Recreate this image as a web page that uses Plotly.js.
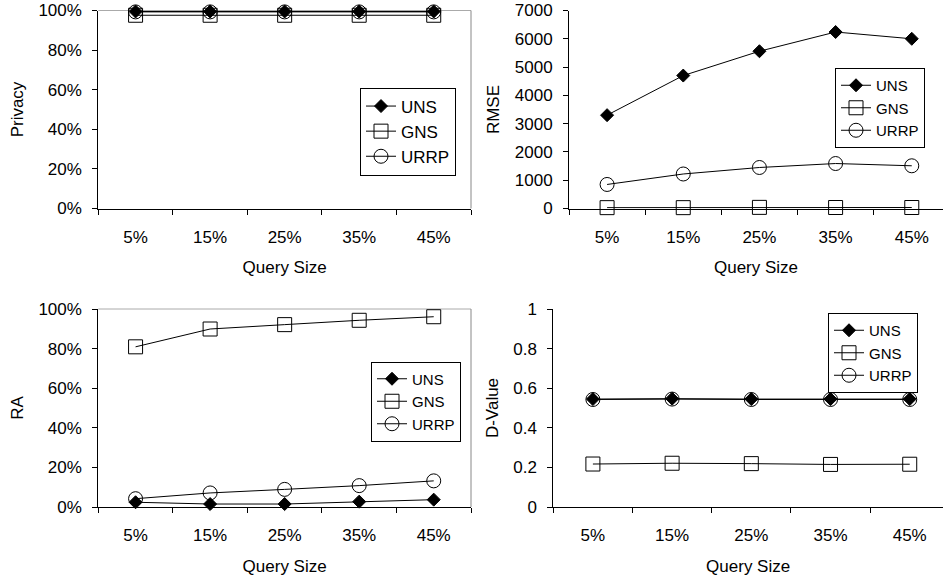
<!DOCTYPE html>
<html>
<head>
<meta charset="utf-8">
<script src="https://cdn.plot.ly/plotly-3.0.1.min.js"></script>
<style>html,body{margin:0;padding:0;background:#fff;}#chart{width:943px;height:579px;}</style>
</head>
<body>
<div id="chart"></div>
<script>
// ---- data ----
const querySizes = ["5%", "15%", "25%", "35%", "45%"];
const seriesNames = ["UNS", "GNS", "URRP"];

const privacyUNS  = [0.995, 0.995, 0.995, 0.995, 0.995];
const privacyGNS  = [0.976, 0.976, 0.976, 0.976, 0.976];
const privacyURRP = [0.993, 0.993, 0.993, 0.993, 0.993];

const rmseUNS  = [3300, 4700, 5560, 6240, 6000];
const rmseGNS  = [30, 30, 40, 35, 35];
const rmseURRP = [850, 1220, 1450, 1590, 1510];

const raUNS  = [0.024, 0.015, 0.015, 0.027, 0.037];
const raGNS  = [0.809, 0.899, 0.921, 0.943, 0.961];
const raURRP = [0.042, 0.071, 0.089, 0.108, 0.132];

const dUNS  = [0.545, 0.547, 0.545, 0.545, 0.545];
const dGNS  = [0.217, 0.221, 0.219, 0.215, 0.216];
const dURRP = [0.543, 0.545, 0.543, 0.543, 0.543];

// ---- styling ----
const FONT = "Arial, 'Liberation Sans', sans-serif";
const FS = 17;
const markerStyles = {
  UNS:  {symbol: "diamond", size: 10, color: "#000", line: {color: "#000", width: 1}},
  GNS:  {symbol: "square-open", size: 14, color: "#000", line: {color: "#000", width: 1}},
  URRP: {symbol: "circle-open", size: 14, color: "#000", line: {color: "#000", width: 1}}
};

function makeTraces(vals, xa, ya, legendName) {
  const map = {UNS: vals[0], GNS: vals[1], URRP: vals[2]};
  return seriesNames.map((name) => ({
    type: "scatter", mode: "lines+markers",
    x: querySizes, y: map[name], name: name,
    xaxis: xa, yaxis: ya, legend: legendName,
    line: {color: "#000", width: 1},
    marker: Object.assign({}, markerStyles[name]),
    cliponaxis: false,
    hoverinfo: "skip"
  }));
}

const traces = [].concat(
  makeTraces([privacyUNS, privacyGNS, privacyURRP], "x", "y", "legend"),
  makeTraces([rmseUNS, rmseGNS, rmseURRP], "x2", "y2", "legend2"),
  makeTraces([raUNS, raGNS, raURRP], "x3", "y3", "legend3"),
  makeTraces([dUNS, dGNS, dURRP], "x4", "y4", "legend4")
);

const W = 943, H = 579;
const px = (v) => v / W;
const py = (v) => (H - v) / H;

function xAxis(domain, rangeEnd, anchor) {
  return {
    domain: domain, anchor: anchor, type: "category",
    categoryorder: "array", categoryarray: querySizes,
    range: [-0.5, rangeEnd],
    tickson: "boundaries", ticks: "outside", ticklen: 5, tickcolor: "#000", tickwidth: 1,
    showline: true, linecolor: "#000", linewidth: 1, showgrid: false, zeroline: false,
    tickfont: {family: FONT, size: FS, color: "#000"},
    ticklabelstandoff: 13,
    title: {text: "Query Size", font: {family: FONT, size: FS, color: "#000"}, standoff: 15},
    automargin: false, fixedrange: true
  };
}
function yAxis(domain, range, dtick, fmt, title, anchor) {
  return {
    domain: domain, anchor: anchor, range: range, dtick: dtick, tickformat: fmt,
    ticks: "outside", ticklen: 5, tickcolor: "#000", tickwidth: 1,
    showline: true, linecolor: "#000", linewidth: 1, showgrid: false, zeroline: false,
    tickfont: {family: FONT, size: FS, color: "#000"},
    ticklabelstandoff: 7,
    title: {text: title, font: {family: FONT, size: FS, color: "#000"}, standoff: 10},
    automargin: false, fixedrange: true
  };
}
function legendAt(x, y, fs) {
  return {
    x: x, y: y, xanchor: "left", yanchor: "middle", xref: "paper", yref: "paper",
    bgcolor: "#fff", bordercolor: "#000", borderwidth: 1,
    font: {family: FONT, size: fs, color: "#000"},
    itemwidth: 30, tracegroupgap: 0, traceorder: "normal"
  };
}

const topDom = [py(208.5), py(10.5)];
const botDom = [py(507), py(309)];
const leftX = [px(98.3), px(471)];

const layout = {
  width: W, height: H,
  margin: {l: 0, r: 0, t: 0, b: 0},
  paper_bgcolor: "#fff", plot_bgcolor: "rgba(0,0,0,0)",
  font: {family: FONT, size: FS, color: "#000"},
  showlegend: true,
  xaxis: xAxis(leftX, 4.5, "y"),
  yaxis: yAxis(topDom, [0, 1], 0.2, ".0%", "Privacy", "x"),
  xaxis2: xAxis([px(569), 1], 4.41, "y2"),
  yaxis2: yAxis(topDom, [0, 7000], 1000, "d", "RMSE", "x2"),
  xaxis3: xAxis(leftX, 4.5, "y3"),
  yaxis3: yAxis(botDom, [0, 1], 0.2, ".0%", "RA", "x3"),
  xaxis4: xAxis([px(553.3), 1], 4.42, "y4"),
  yaxis4: yAxis(botDom, [0, 1], 0.2, "", "D-Value", "x4"),
  legend: legendAt(px(360), py(131.5), 17),
  legend2: legendAt(px(835), py(108), 15),
  legend3: legendAt(px(371), py(401.5), 15),
  legend4: legendAt(px(828), py(353), 15),
  shapes: [
    {type: "line", xref: "x domain", yref: "y domain", x0: 0, x1: 1, y0: 1, y1: 1, line: {color: "#aaa", width: 1}, layer: "below"},
    {type: "line", xref: "x domain", yref: "y domain", x0: 1, x1: 1, y0: 0, y1: 1, line: {color: "#888", width: 1}, layer: "below"},
    {type: "line", xref: "x3 domain", yref: "y3 domain", x0: 0, x1: 1, y0: 1, y1: 1, line: {color: "#aaa", width: 1}, layer: "below"},
    {type: "line", xref: "x3 domain", yref: "y3 domain", x0: 1, x1: 1, y0: 0, y1: 1, line: {color: "#888", width: 1}, layer: "below"}
  ]
};

Plotly.newPlot("chart", traces, layout, {displayModeBar: false, staticPlot: true});
</script>
</body>
</html>
